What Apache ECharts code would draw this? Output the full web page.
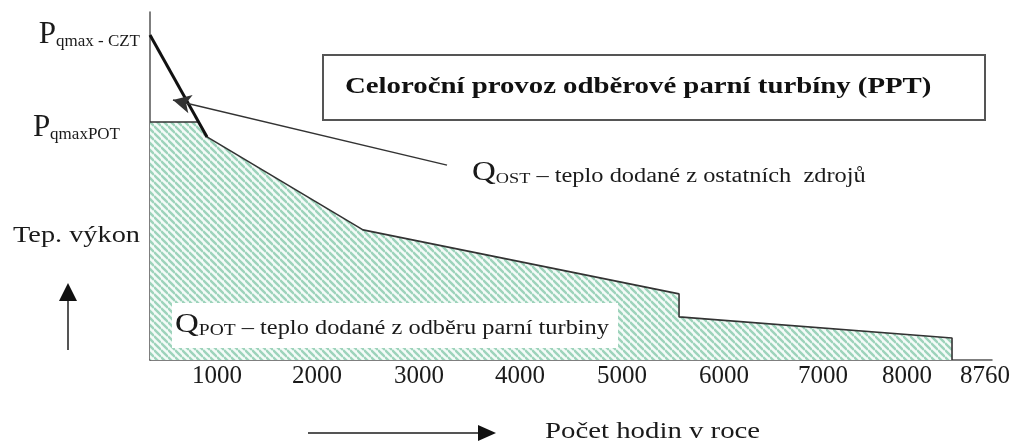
<!DOCTYPE html>
<html>
<head>
<meta charset="utf-8">
<title>Celoroční provoz odběrové parní turbíny (PPT)</title>
<script src="https://cdn.jsdelivr.net/npm/echarts@6/dist/echarts.min.js"></script>
<style>
  html, body { margin: 0; padding: 0; background: #fff; }
  #chart { width: 1030px; height: 445px; }
</style>
</head>
<body>
<div id="chart"></div>
<script>
// Data: hours in the year (x) vs. relative heat output (y, 0-100)
const pCzt = 93.4;   // Pqmax - CZT
const pPot = 68.4;   // PqmaxPOT

// Q_POT - upper edge of the hatched area (heat from turbine extraction)
const potHours = [0, 506, 593, 2216, 5504, 5504, 8344, 8344];
const potPower = [pPot, pPot, 64.1, 37.4, 19.0, 12.4, 6.3, 0];

// total district heat demand (thick line at the start)
const cztHours = [0, 593];
const cztPower = [pCzt, 64.1];

// pointer from the Q_OST label to the small white region
const ostArrowHours = [3090, 239];
const ostArrowPower = [56.0, 74.7];

// x axis labels (schematic, not evenly spaced in the original)
const xTickLabels = ['1000', '2000', '3000', '4000', '5000', '6000', '7000', '8000', '8760'];
const xTickPos = [697, 1737, 2799, 3849, 4911, 5972, 7002, 7876, 8687];

// y axis labels
const yTickPos = [pPot, pCzt];
const yTickLabels = ['{pp|P}{s|qmaxPOT}{gap|}', '{p|P}{s|qmax - CZT}'];

const serif = '"Liberation Serif", "Times New Roman", serif';

// diagonal green hatching for Q_POT
function makeHatch() {
    const s = 7;
    const c = document.createElement('canvas');
    c.width = s;
    c.height = s;
    const ctx = c.getContext('2d');
    ctx.fillStyle = '#f4fbf8';
    ctx.fillRect(0, 0, s, s);
    ctx.strokeStyle = '#9dd3bb';
    ctx.lineWidth = 2.4;
    for (let k = -1; k <= 1; k++) {
        ctx.beginPath();
        ctx.moveTo(0, k * s);
        ctx.lineTo(s, s + k * s);
        ctx.stroke();
    }
    return c;
}

function zip(xs, ys) {
    return xs.map((x, i) => [x, ys[i]]);
}

function nearestIndex(arr, v) {
    let best = 0;
    arr.forEach((a, i) => { if (Math.abs(a - v) < Math.abs(arr[best] - v)) best = i; });
    return best;
}

const chart = echarts.init(document.getElementById('chart'));

const option = {
    animation: false,
    grid: { left: 150, right: 38, top: 12, bottom: 85 },
    xAxis: {
        type: 'value',
        min: 0,
        max: 8760,
        axisLine: { show: true, lineStyle: { color: '#555', width: 1.5 } },
        axisTick: { show: false },
        splitLine: { show: false },
        axisLabel: {
            customValues: xTickPos,
            margin: 4,
            color: '#1a1a1a',
            fontFamily: serif,
            fontSize: 25,
            formatter: v => xTickLabels[nearestIndex(xTickPos, v)]
        }
    },
    yAxis: {
        type: 'value',
        min: 0,
        max: 100,
        axisLine: { show: true, lineStyle: { color: '#555', width: 1.5 } },
        axisTick: { show: false },
        splitLine: { show: false },
        axisLabel: {
            customValues: yTickPos,
            margin: 10,
            color: '#1a1a1a',
            formatter: v => yTickLabels[nearestIndex(yTickPos, v)],
            rich: {
                p: { fontFamily: serif, fontSize: 31, color: '#1a1a1a', verticalAlign: 'bottom' },
                pp: { fontFamily: serif, fontSize: 31, color: '#1a1a1a', verticalAlign: 'bottom', padding: [12, 0, 0, 0] },
                s: { fontFamily: serif, fontSize: 17, color: '#1a1a1a', verticalAlign: 'bottom' },
                gap: { width: 20 }
            }
        }
    },
    series: [
        {
            name: 'Q_POT',
            type: 'line',
            data: zip(potHours, potPower),
            symbol: 'none',
            lineStyle: { color: '#333', width: 1.6 },
            areaStyle: { color: { image: makeHatch(), repeat: 'repeat' }, opacity: 1 },
            z: 2
        },
        {
            name: 'CZT',
            type: 'line',
            data: zip(cztHours, cztPower),
            symbol: 'none',
            lineStyle: { color: '#111', width: 3 },
            z: 3,
            markLine: {
                silent: true,
                label: { show: false },
                lineStyle: { color: '#333', width: 1.5, type: 'solid' },
                data: [[
                    { coord: [ostArrowHours[0], ostArrowPower[0]], symbol: 'none' },
                    { coord: [ostArrowHours[1], ostArrowPower[1]], symbol: 'arrow', symbolSize: [14, 18] }
                ]]
            }
        }
    ],
    graphic: [
        // title box
        {
            type: 'rect', z: 100,
            shape: { x: 323, y: 55, width: 662, height: 65 },
            style: { fill: '#fff', stroke: '#555', lineWidth: 2 }
        },
        {
            type: 'text', z: 101, x: 345, y: 87, scaleX: 1.2,
            style: {
                text: 'Celoroční provoz odběrové parní turbíny (PPT)',
                fontFamily: serif, fontSize: 24, fontWeight: 'bold',
                fill: '#111', align: 'left', verticalAlign: 'middle'
            }
        },
        // Q_OST label
        {
            type: 'text', z: 101, x: 472, y: 173, scaleX: 1.22,
            style: {
                text: '{q|Q}{s|OST}{t| – teplo dodané z ostatních  zdrojů}',
                align: 'left', verticalAlign: 'middle',
                rich: {
                    q: { fontFamily: serif, fontSize: 27, fill: '#1a1a1a', verticalAlign: 'bottom' },
                    s: { fontFamily: serif, fontSize: 15, fill: '#1a1a1a', verticalAlign: 'bottom' },
                    t: { fontFamily: serif, fontSize: 20, fill: '#1a1a1a', verticalAlign: 'bottom' }
                }
            }
        },
        // Q_POT label on white box
        {
            type: 'rect', z: 100,
            shape: { x: 172, y: 303, width: 446, height: 45 },
            style: { fill: '#fff' }
        },
        {
            type: 'text', z: 101, x: 175, y: 325, scaleX: 1.22,
            style: {
                text: '{q|Q}{s|POT}{t| – teplo dodané z odběru parní turbiny}',
                align: 'left', verticalAlign: 'middle',
                rich: {
                    q: { fontFamily: serif, fontSize: 27, fill: '#1a1a1a', verticalAlign: 'bottom' },
                    s: { fontFamily: serif, fontSize: 16, fill: '#1a1a1a', verticalAlign: 'bottom' },
                    t: { fontFamily: serif, fontSize: 20, fill: '#1a1a1a', verticalAlign: 'bottom' }
                }
            }
        },
        // y axis name with arrow
        {
            type: 'text', z: 101, x: 13, y: 236, scaleX: 1.18,
            style: {
                text: 'Tep. výkon', fontFamily: serif, fontSize: 24,
                fill: '#1a1a1a', align: 'left', verticalAlign: 'middle'
            }
        },
        {
            type: 'line', z: 101,
            shape: { x1: 68, y1: 350, x2: 68, y2: 298 },
            style: { stroke: '#555', lineWidth: 2 }
        },
        {
            type: 'polygon', z: 101,
            shape: { points: [[68, 283], [59, 301], [77, 301]] },
            style: { fill: '#111' }
        },
        // x axis name with arrow
        {
            type: 'line', z: 101,
            shape: { x1: 308, y1: 433, x2: 480, y2: 433 },
            style: { stroke: '#555', lineWidth: 2 }
        },
        {
            type: 'polygon', z: 101,
            shape: { points: [[496, 433], [478, 425], [478, 441]] },
            style: { fill: '#111' }
        },
        {
            type: 'text', z: 101, x: 545, y: 432, scaleX: 1.2,
            style: {
                text: 'Počet hodin v roce', fontFamily: serif, fontSize: 24,
                fill: '#1a1a1a', align: 'left', verticalAlign: 'middle'
            }
        }
    ]
};

chart.setOption(option);

window.addEventListener('resize', function() {
    chart.resize();
});
</script>
</body>
</html>
